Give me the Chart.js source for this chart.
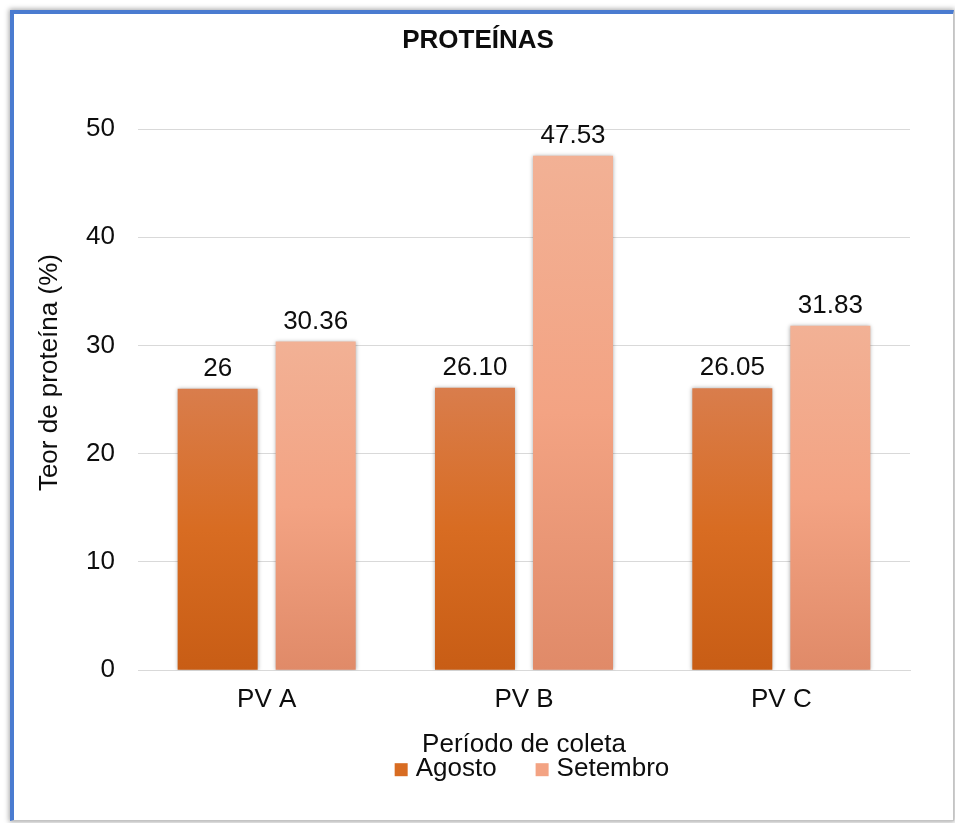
<!DOCTYPE html>
<html>
<head>
<meta charset="utf-8">
<script src="https://cdn.jsdelivr.net/npm/chart.js@4/dist/chart.umd.min.js"></script>
<style>
  html, body { margin: 0; padding: 0; background: #fff; width: 955px; height: 823px; overflow: hidden; }
  #frame {
    position: absolute; left: 10px; top: 10px; width: 939px; height: 806px;
    background: #fff;
    border-top: 4px solid #4a7bd0; border-left: 4px solid #4a7bd0;
    border-right: 1px solid #c4c4c4; border-bottom: 1px solid #c4c4c4;
    box-shadow: 0 0 5px 1px rgba(0,0,0,0.35);
  }
  #wrap { position: absolute; left: 0; top: 0; width: 955px; height: 823px; }
</style>
</head>
<body>
<div id="frame"></div>
<div id="wrap"><canvas id="chart"></canvas></div>
<script>
// Protein content per collection point, two sampling months
const categories = ['PV A', 'PV B', 'PV C'];
const agosto = [26, 26.10, 26.05];
const setembro = [30.36, 47.53, 31.83];
const agostoLabels = ['26', '26.10', '26.05'];
const setembroLabels = ['30.36', '47.53', '31.83'];
const seriesNames = ['Agosto', 'Setembro'];
const yTickValues = [0, 10, 20, 30, 40, 50];

const FONT = "'Liberation Sans', Arial, Helvetica, sans-serif";
const INK = '#0d0d0d';

// top / middle / bottom colours of each series' vertical gradient
const agostoStops = ['#d97d4c', '#d86c22', '#c85d15'];
const setembroStops = ['#f2b195', '#f3a383', '#e08a68'];

function barGradient(stops) {
  return (ctx) => {
    const chart = ctx.chart;
    if (ctx.type !== 'data' || !chart.chartArea) return stops[1];
    const y = chart.scales.y;
    const top = y.getPixelForValue(ctx.raw);
    const base = y.getPixelForValue(0);
    const g = chart.ctx.createLinearGradient(0, top, 0, base);
    g.addColorStop(0, stops[0]);
    g.addColorStop(0.5, stops[1]);
    g.addColorStop(1, stops[2]);
    return g;
  };
}

const valueLabels = [agostoLabels, setembroLabels];
const legendSwatch = [agostoStops[1], setembroStops[1]];

const decor = {
  id: 'decor',
  beforeDatasetsDraw(chart) {
    const c = chart.ctx;
    c.save();
    c.shadowColor = 'rgba(0,0,0,0.35)';
    c.shadowBlur = 4;
    c.shadowOffsetX = 0;
    c.shadowOffsetY = 0;
  },
  afterDatasetsDraw(chart) {
    const c = chart.ctx;
    c.restore();
    // value labels above the bars
    c.save();
    c.font = '26px ' + FONT;
    c.fillStyle = INK;
    c.textAlign = 'center';
    c.textBaseline = 'alphabetic';
    chart.data.datasets.forEach((ds, i) => {
      chart.getDatasetMeta(i).data.forEach((bar, j) => {
        c.fillText(valueLabels[i][j], bar.x, bar.y - 13);
      });
    });
    c.restore();
  },
  afterDraw(chart) {
    const c = chart.ctx;
    const area = chart.chartArea;
    // vertical axis title
    c.save();
    c.font = '26px ' + FONT;
    c.fillStyle = INK;
    c.textAlign = 'center';
    c.textBaseline = 'middle';
    c.translate(50, (area.top + area.bottom) / 2 - 27);
    c.rotate(-Math.PI / 2);
    c.fillText('Teor de proteína (%)', 0, 0);
    c.restore();

    // legend row under the axis title
    c.save();
    c.font = '26px ' + FONT;
    const box = 13, gap = 8, spacing = 39;
    const widths = seriesNames.map(n => c.measureText(n).width);
    const total = widths.reduce((a, w) => a + box + gap + w, 0) + spacing * (seriesNames.length - 1);
    let x = (area.left + area.right) / 2 + 8 - total / 2;
    const base = area.bottom + 106;
    c.textBaseline = 'alphabetic';
    c.textAlign = 'left';
    seriesNames.forEach((n, i) => {
      c.fillStyle = legendSwatch[i];
      c.fillRect(x, base - box, box, box);
      x += box + gap;
      c.fillStyle = INK;
      c.fillText(n, x, base);
      x += widths[i] + spacing;
    });
    c.restore();
  }
};

new Chart(document.getElementById('chart'), {
  type: 'bar',
  data: {
    labels: categories,
    datasets: [
      { label: seriesNames[0], data: agosto, backgroundColor: barGradient(agostoStops), borderWidth: 0 },
      { label: seriesNames[1], data: setembro, backgroundColor: barGradient(setembroStops), borderWidth: 0 }
    ]
  },
  options: {
    responsive: true,
    maintainAspectRatio: false,
    animation: false,
    devicePixelRatio: 1,
    categoryPercentage: 0.762,
    barPercentage: 0.816,
    layout: { padding: { top: 0, left: 46, right: 45, bottom: 62.4 } },
    plugins: {
      legend: { display: false },
      tooltip: { enabled: false },
      title: {
        display: true,
        text: 'PROTEÍNAS',
        color: INK,
        font: { family: FONT, size: 26, weight: 'bold' },
        padding: { top: 25, bottom: 72.8 }
      }
    },
    scales: {
      x: {
        grid: { display: false, drawTicks: false },
        border: { display: true, color: '#d9d9d9', width: 1 },
        ticks: { color: INK, font: { family: FONT, size: 26 }, padding: 14 },
        title: {
          display: true,
          text: 'Período de coleta',
          color: INK,
          font: { family: FONT, size: 26 },
          padding: { top: 0, bottom: 0 }
        }
      },
      y: {
        min: 0,
        max: 50,
        afterFit(scale) { scale.width = 92; },
        afterBuildTicks(scale) { scale.ticks = yTickValues.map(v => ({ value: v })); },
        grid: { color: '#d9d9d9', lineWidth: 1, drawTicks: false },
        border: { display: false },
        ticks: { color: INK, font: { family: FONT, size: 26 }, padding: 23 }
      }
    }
  },
  plugins: [decor]
});
</script>
</body>
</html>
